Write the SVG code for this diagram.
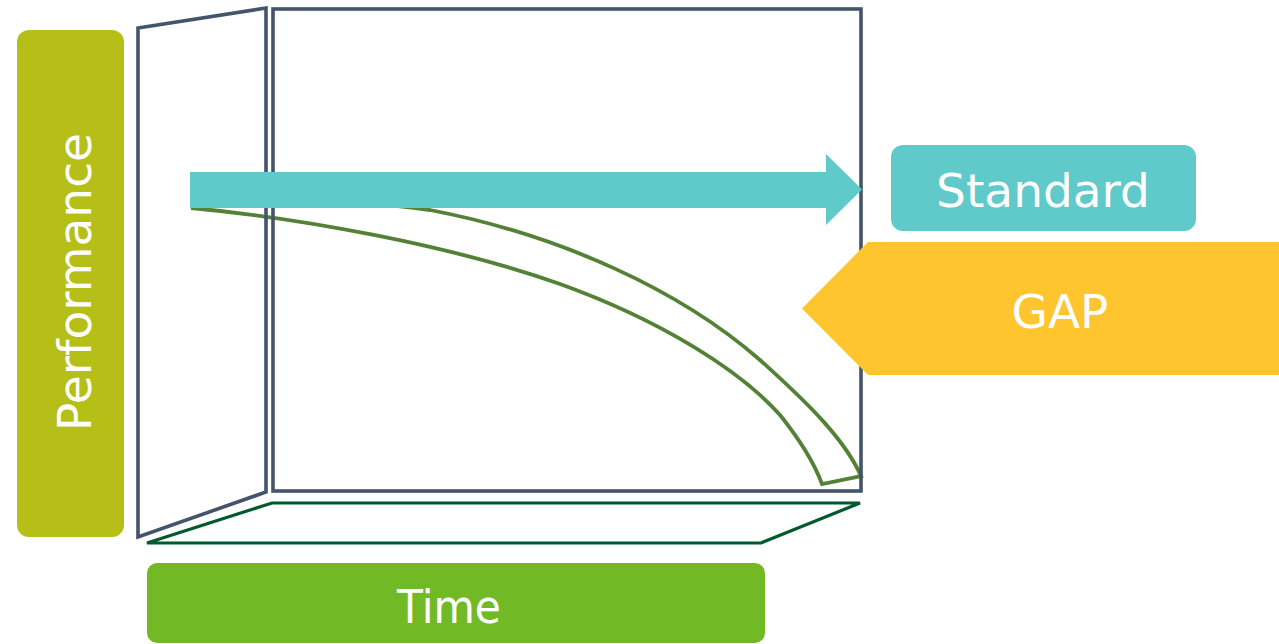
<svg xmlns="http://www.w3.org/2000/svg" width="1279" height="644" viewBox="0 0 1279 644">
<style>
.lbl{font-family:"DejaVu Sans","Liberation Sans",sans-serif;fill:#ffffff;font-size:47px;text-anchor:middle}
.frame{fill:none;stroke:#44546A;stroke-width:3.6;stroke-linejoin:miter}
.floor{fill:none;stroke:#005A2E;stroke-width:3.2}
.curve{fill:none;stroke:#538135;stroke-width:3.8;stroke-linejoin:miter}
</style>
<rect width="1279" height="644" fill="#ffffff"/>
<g id="performance">
<rect x="17" y="30" width="107" height="507" rx="12" fill="#B6BE18"/>
<text class="lbl" transform="translate(91,282) rotate(-90)">Performance</text>
</g>
<g id="time">
<rect x="147" y="563" width="618" height="80" rx="10" fill="#72BA25"/>
<text class="lbl" x="449" y="623" textLength="104" lengthAdjust="spacingAndGlyphs">Time</text>
</g>
<g id="connectors">
<path class="curve" d="M191,208 C300,218 450,245 560,284 C660,320 740,370 780,415 C800,440 815,465 822,484 L861,476 C845,440 810,405 760,360 C680,290 560,235 430,210 C380,203 300,198 192,196"/>
</g>
<g id="frame">
<polygon class="frame" points="138,28 266,8 266,492 138,537"/>
<rect class="frame" x="273" y="9" width="588" height="482"/>
<polygon class="floor" points="272,503 860,503 761,543 147,543"/>
</g>
<g id="standard-arrow">
<polygon points="190,172 826,172 826,154 862,189.5 826,225 826,208 190,208" fill="#5FCAC9"/>
</g>
<g id="standard">
<rect x="891" y="145" width="305" height="86" rx="12" fill="#5FCAC9"/>
<text class="lbl" x="1043" y="207">Standard</text>
</g>
<g id="gap">
<polygon points="802,308.5 868,242 1279,242 1279,375 868,375" fill="#FFC52F"/>
<text class="lbl" x="1060" y="328">GAP</text>
</g>
</svg>
